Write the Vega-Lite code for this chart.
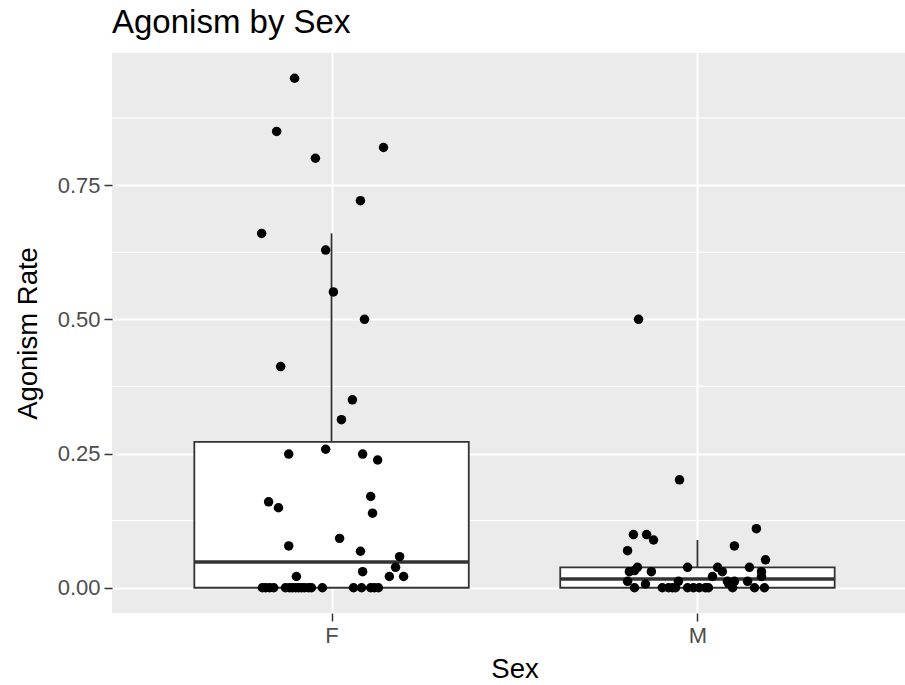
{
  "$schema": "https://vega.github.io/schema/vega-lite/v6.json",
  "autosize": {"type": "none"},
  "padding": {"left": 112, "top": 53, "right": 0, "bottom": 72},
  "width": 805,
  "height": 560,
  "background": "white",
  "title": {
    "text": "Agonism by Sex",
    "anchor": "start",
    "frame": "group",
    "font": "Liberation Sans",
    "fontSize": 33,
    "fontWeight": "normal",
    "color": "black",
    "offset": 13
  },
  "config": {
    "view": {"fill": "#EBEBEB", "stroke": null},
    "axis": {
      "domain": false,
      "grid": true,
      "gridColor": "white",
      "gridWidth": 2,
      "tickColor": "#333333",
      "tickWidth": 1.5,
      "tickSize": 8,
      "labelFont": "Liberation Sans",
      "labelFontSize": 22,
      "labelColor": "#4D4D4D",
      "labelPadding": 4,
      "titleFont": "Liberation Sans",
      "titleFontSize": 27.5,
      "titleFontWeight": "normal",
      "titleColor": "black"
    }
  },
  "datasets": {
    "points": [
      {"Sex": "F", "rate": 0.949, "jitter": -0.101},
      {"Sex": "F", "rate": 0.850, "jitter": -0.150},
      {"Sex": "F", "rate": 0.800, "jitter": -0.044},
      {"Sex": "F", "rate": 0.820, "jitter": 0.142},
      {"Sex": "F", "rate": 0.721, "jitter": 0.079},
      {"Sex": "F", "rate": 0.660, "jitter": -0.191},
      {"Sex": "F", "rate": 0.629, "jitter": -0.016},
      {"Sex": "F", "rate": 0.551, "jitter": 0.005},
      {"Sex": "F", "rate": 0.500, "jitter": 0.090},
      {"Sex": "F", "rate": 0.412, "jitter": -0.139},
      {"Sex": "F", "rate": 0.350, "jitter": 0.057},
      {"Sex": "F", "rate": 0.313, "jitter": 0.027},
      {"Sex": "F", "rate": 0.249, "jitter": -0.117},
      {"Sex": "F", "rate": 0.258, "jitter": -0.016},
      {"Sex": "F", "rate": 0.249, "jitter": 0.085},
      {"Sex": "F", "rate": 0.238, "jitter": 0.126},
      {"Sex": "F", "rate": 0.160, "jitter": -0.172},
      {"Sex": "F", "rate": 0.149, "jitter": -0.145},
      {"Sex": "F", "rate": 0.170, "jitter": 0.107},
      {"Sex": "F", "rate": 0.139, "jitter": 0.112},
      {"Sex": "F", "rate": 0.078, "jitter": -0.117},
      {"Sex": "F", "rate": 0.092, "jitter": 0.022},
      {"Sex": "F", "rate": 0.068, "jitter": 0.079},
      {"Sex": "F", "rate": 0.058, "jitter": 0.186},
      {"Sex": "F", "rate": 0.038, "jitter": 0.175},
      {"Sex": "F", "rate": 0.021, "jitter": -0.096},
      {"Sex": "F", "rate": 0.030, "jitter": 0.085},
      {"Sex": "F", "rate": 0.021, "jitter": 0.158},
      {"Sex": "F", "rate": 0.021, "jitter": 0.197},
      {"Sex": "F", "rate": 0, "jitter": -0.189},
      {"Sex": "F", "rate": 0, "jitter": -0.180},
      {"Sex": "F", "rate": 0, "jitter": -0.169},
      {"Sex": "F", "rate": 0, "jitter": -0.158},
      {"Sex": "F", "rate": 0, "jitter": -0.126},
      {"Sex": "F", "rate": 0, "jitter": -0.115},
      {"Sex": "F", "rate": 0, "jitter": -0.107},
      {"Sex": "F", "rate": 0, "jitter": -0.098},
      {"Sex": "F", "rate": 0, "jitter": -0.090},
      {"Sex": "F", "rate": 0, "jitter": -0.082},
      {"Sex": "F", "rate": 0, "jitter": -0.074},
      {"Sex": "F", "rate": 0, "jitter": -0.063},
      {"Sex": "F", "rate": 0, "jitter": -0.055},
      {"Sex": "F", "rate": 0, "jitter": -0.025},
      {"Sex": "F", "rate": 0, "jitter": 0.060},
      {"Sex": "F", "rate": 0, "jitter": 0.082},
      {"Sex": "F", "rate": 0, "jitter": 0.107},
      {"Sex": "F", "rate": 0, "jitter": 0.117},
      {"Sex": "F", "rate": 0, "jitter": 0.128},
      {"Sex": "M", "rate": 0.500, "jitter": -0.161},
      {"Sex": "M", "rate": 0.201, "jitter": -0.049},
      {"Sex": "M", "rate": 0.099, "jitter": -0.175},
      {"Sex": "M", "rate": 0.099, "jitter": -0.139},
      {"Sex": "M", "rate": 0.089, "jitter": -0.120},
      {"Sex": "M", "rate": 0.110, "jitter": 0.161},
      {"Sex": "M", "rate": 0.078, "jitter": 0.101},
      {"Sex": "M", "rate": 0.069, "jitter": -0.191},
      {"Sex": "M", "rate": 0.052, "jitter": 0.186},
      {"Sex": "M", "rate": 0.038, "jitter": -0.027},
      {"Sex": "M", "rate": 0.038, "jitter": 0.055},
      {"Sex": "M", "rate": 0.038, "jitter": 0.142},
      {"Sex": "M", "rate": 0.038, "jitter": -0.164},
      {"Sex": "M", "rate": 0.030, "jitter": -0.186},
      {"Sex": "M", "rate": 0.032, "jitter": -0.172},
      {"Sex": "M", "rate": 0.030, "jitter": -0.126},
      {"Sex": "M", "rate": 0.021, "jitter": 0.041},
      {"Sex": "M", "rate": 0.030, "jitter": 0.068},
      {"Sex": "M", "rate": 0.012, "jitter": 0.082},
      {"Sex": "M", "rate": 0.012, "jitter": 0.101},
      {"Sex": "M", "rate": 0.030, "jitter": 0.175},
      {"Sex": "M", "rate": 0.021, "jitter": 0.175},
      {"Sex": "M", "rate": 0.012, "jitter": 0.137},
      {"Sex": "M", "rate": 0.012, "jitter": -0.191},
      {"Sex": "M", "rate": 0, "jitter": -0.172},
      {"Sex": "M", "rate": 0.007, "jitter": -0.142},
      {"Sex": "M", "rate": 0, "jitter": 0.096},
      {"Sex": "M", "rate": 0, "jitter": 0.156},
      {"Sex": "M", "rate": 0, "jitter": 0.183},
      {"Sex": "M", "rate": 0, "jitter": -0.096},
      {"Sex": "M", "rate": 0, "jitter": -0.079},
      {"Sex": "M", "rate": 0, "jitter": -0.060},
      {"Sex": "M", "rate": 0.012, "jitter": -0.052},
      {"Sex": "M", "rate": 0, "jitter": -0.027},
      {"Sex": "M", "rate": 0, "jitter": -0.011},
      {"Sex": "M", "rate": 0, "jitter": 0.022},
      {"Sex": "M", "rate": 0, "jitter": 0.030},
      {"Sex": "M", "rate": 0.008, "jitter": 0.085},
      {"Sex": "M", "rate": 0, "jitter": -0.068},
      {"Sex": "M", "rate": 0, "jitter": 0.005}
    ],
    "minor": [
      {"v": 0.125}, {"v": 0.375}, {"v": 0.625}, {"v": 0.875}
    ]
  },
  "layer": [
    {
      "data": {"name": "minor"},
      "mark": {"type": "rule", "color": "white", "strokeWidth": 1.1},
      "encoding": {
        "y": {"field": "v", "type": "quantitative", "title": "Agonism Rate",
              "scale": {"domain": [-0.047, 0.996], "nice": false, "zero": false}}
      }
    },
    {
      "data": {"name": "points"},
      "transform": [
        {"calculate": "datum.Sex === 'F' ? 1 : 2", "as": "pos"},
        {"joinaggregate": [
          {"op": "q1", "field": "rate", "as": "lo"},
          {"op": "median", "field": "rate", "as": "med"},
          {"op": "q3", "field": "rate", "as": "hi"}
        ], "groupby": ["Sex"]},
        {"filter": "datum.rate >= datum.lo - 1.5 * (datum.hi - datum.lo) && datum.rate <= datum.hi + 1.5 * (datum.hi - datum.lo)"},
        {"aggregate": [
          {"op": "min", "field": "rate", "as": "wmin"},
          {"op": "max", "field": "rate", "as": "wmax"},
          {"op": "max", "field": "lo", "as": "q1"},
          {"op": "max", "field": "med", "as": "median"},
          {"op": "max", "field": "hi", "as": "q3"}
        ], "groupby": ["Sex", "pos"]},
        {"calculate": "datum.pos - 0.375", "as": "left"},
        {"calculate": "datum.pos + 0.375", "as": "right"}
      ],
      "layer": [
        {
          "mark": {"type": "rule", "color": "#333333", "strokeWidth": 1.8},
          "encoding": {
            "x": {"field": "pos", "type": "quantitative", "title": "Sex"},
            "y": {"field": "q3", "type": "quantitative", "title": "Agonism Rate"},
            "y2": {"field": "wmax"}
          }
        },
        {
          "mark": {"type": "rule", "color": "#333333", "strokeWidth": 1.8},
          "encoding": {
            "x": {"field": "pos", "type": "quantitative", "title": "Sex"},
            "y": {"field": "wmin", "type": "quantitative", "title": "Agonism Rate"},
            "y2": {"field": "q1"}
          }
        },
        {
          "mark": {"type": "rect", "fill": "white", "stroke": "#333333", "strokeWidth": 1.8},
          "encoding": {
            "x": {"field": "left", "type": "quantitative", "title": "Sex"},
            "x2": {"field": "right"},
            "y": {"field": "q1", "type": "quantitative", "title": "Agonism Rate"},
            "y2": {"field": "q3"}
          }
        },
        {
          "mark": {"type": "rule", "color": "#333333", "strokeWidth": 3.5},
          "encoding": {
            "x": {"field": "left", "type": "quantitative", "title": "Sex"},
            "x2": {"field": "right"},
            "y": {"field": "median", "type": "quantitative", "title": "Agonism Rate"}
          }
        }
      ]
    },
    {
      "data": {"name": "points"},
      "transform": [
        {"calculate": "(datum.Sex === 'F' ? 1 : 2) + datum.jitter", "as": "xp"}
      ],
      "mark": {"type": "point", "filled": true, "color": "black", "opacity": 1, "size": 90},
      "encoding": {
        "x": {
          "field": "xp", "type": "quantitative", "title": "Sex",
          "scale": {"domain": [0.4, 2.6], "nice": false, "zero": false},
          "axis": {
            "values": [1, 2],
            "labelExpr": "datum.value === 1 ? 'F' : 'M'",
            "titlePadding": 9
          }
        },
        "y": {
          "field": "rate", "type": "quantitative", "title": "Agonism Rate",
          "scale": {"domain": [-0.047, 0.996], "nice": false, "zero": false},
          "axis": {
            "values": [0, 0.25, 0.5, 0.75],
            "format": ".2f",
            "titlePadding": 15
          }
        }
      }
    }
  ]
}
